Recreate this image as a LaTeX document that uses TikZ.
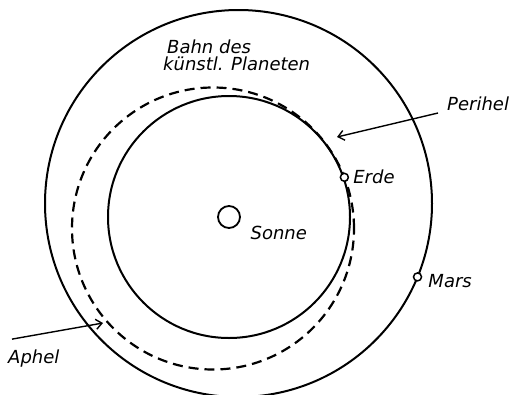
\documentclass[tikz,border=0pt]{standalone}
\usepackage{fontspec}
\setmainfont{DejaVu Sans}
\usetikzlibrary{arrows.meta, positioning, calc}
\tikzset{
  orbit/.style={line width=2pt},
  transfer/.style={line width=2.2pt, dash pattern=on 10pt off 6pt},
  planet/.style={circle, draw, line width=1.5pt, fill=white, minimum size=8pt, inner sep=0pt},
  sunbody/.style={circle, draw, line width=1.8pt, minimum size=22pt, inner sep=0pt},
  lbl/.style={font=\fontsize{18}{17}\selectfont\itshape, inner sep=0pt},
  pointer/.style={-{Straight Barb[length=6pt, width=10pt]}, line width=1.4pt},
}

\begin{document}
\begin{tikzpicture}[x=1pt, y=-1pt]
  \useasboundingbox (0,0) rectangle (514,394);
  % orbit centres
  \coordinate (ec) at (229,217);
  \coordinate (mc) at (238.5,203.5);
  \coordinate (tc) at (213,228.5);
  % orbits
  \draw[orbit] (ec) circle[radius=121pt];
  \draw[orbit] (mc) circle[radius=193.5pt];
  \draw[transfer] (tc) circle[radius=141pt];
  % bodies
  \node[sunbody] (sun) at (ec) {};
  \node[planet] (earth) at ($(ec)+(-19:122)$) {};
  \node[planet] (mars) at ($(mc)+(22.3:193.5)$) {};
  % labels
  \node[lbl, below right=1pt and 13pt of sun] (sonne) {Sonne};
  \node[lbl, right=4pt of earth] (erde) {Erde};
  \node[lbl, right=6pt of mars, yshift=-4pt] (marslbl) {Mars};
  \node[lbl, align=left, anchor=north west] (bahn) at (163,40) {\hspace*{4pt}Bahn des\\künstl. Planeten};
  \node[lbl, anchor=base west] (perilbl) at (447,110) {Perihel};
  \node[lbl, anchor=base west] (aphlbl) at (8,363) {Aphel};
  % perihel / aphel
  \coordinate (peri) at (337,137);
  \coordinate (aph) at (103,323);
  \draw[pointer] ([shift={(-9pt,-3pt)}]perilbl.base west) -- (peri);
  \draw[pointer] ([shift={(4pt,10pt)}]aphlbl.north west) -- (aph);
\end{tikzpicture}
\end{document}
